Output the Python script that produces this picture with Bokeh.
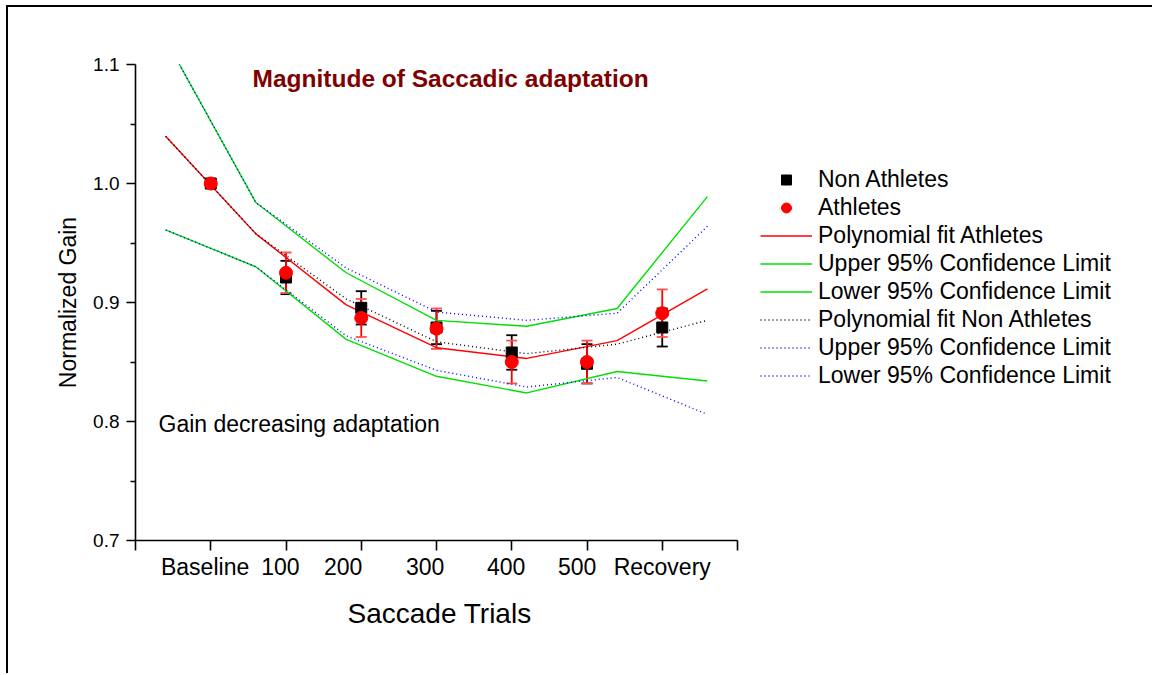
from bokeh.plotting import figure
from bokeh.models import (Range1d, FixedTicker, NumeralTickFormatter, ColumnDataSource,
                          Whisker, TeeHead, Legend, LegendItem, Label, LinearAxis, Title)
from bokeh.embed import file_html
from bokeh.resources import INLINE

FONT = "Liberation Sans"

# ---- data ----
conditions = ["Baseline", "100", "200", "300", "400", "500", "Recovery"]
cond_pos = [1, 2, 3, 4, 5, 6, 7]

non_mean = [1.000, 0.921, 0.8955, 0.879, 0.858, 0.8485, 0.879]
non_err = [0.0, 0.014, 0.014, 0.014, 0.0145, 0.0165, 0.016]
ath_mean = [1.000, 0.925, 0.887, 0.878, 0.850, 0.850, 0.891]
ath_err = [0.0, 0.017, 0.016, 0.017, 0.018, 0.018, 0.020]

fit_x = [0.4, 1.6, 2.8, 4.0, 5.2, 6.4, 7.6]
ath_fit = [1.0397, 0.9577, 0.898, 0.862, 0.853, 0.868, 0.9115]
ath_upper = [1.121, 0.984, 0.925, 0.885, 0.880, 0.895, 0.989]
ath_lower = [0.961, 0.930, 0.869, 0.838, 0.824, 0.842, 0.834]
non_fit = [1.0397, 0.9577, 0.903, 0.867, 0.857, 0.865, 0.885]
non_upper = [1.121, 0.984, 0.929, 0.892, 0.885, 0.891, 0.964]
non_lower = [0.961, 0.930, 0.872, 0.843, 0.829, 0.837, 0.806]

y_ticks = [0.7, 0.8, 0.9, 1.0, 1.1]
y_minor = [0.75, 0.85, 0.95, 1.05]
x_ticks = [0, 1, 2, 3, 4, 5, 6, 7, 8]
x_axis_span = (0, 8)

# styling: horizontal nudges of the category labels (as placed in the original)
label_shift = [-0.075, -0.075, -0.24, -0.15, -0.075, -0.13, 0.0]

# ---- figure ----
W, H = 1146, 668
LEFT, RIGHT, TOP = 127, 6, 57
FRAME_W, FRAME_H = W - LEFT - RIGHT, 476
px_per_unit = 602 / 8.0          # axis 0..8 spans 602 px in the original
x_end = FRAME_W / px_per_unit    # frame extends further right to host the legend

p = figure(width=W, height=H, output_backend="svg", toolbar_location=None,
           x_range=Range1d(0, x_end), y_range=Range1d(0.7, 1.1),
           min_border_left=LEFT, min_border_right=RIGHT,
           min_border_top=TOP, min_border_bottom=H - TOP - FRAME_H)
p.styles = {"margin-left": "6px", "margin-top": "5px",
            "border-left": "2px solid black", "border-top": "2px solid black"}
p.outline_line_color = None
p.xgrid.visible = False
p.ygrid.visible = False
p.background_fill_color = "white"
p.border_fill_color = "white"

# axes
for ax in (p.xaxis[0], p.yaxis[0]):
    ax.axis_line_width = 1.6
    ax.axis_line_color = "black"
    ax.major_tick_line_width = 1.6
    ax.minor_tick_line_width = 1.6
    ax.major_tick_in = 0
    ax.minor_tick_in = 0
    ax.major_label_text_font = FONT
    ax.axis_label_text_font = FONT
    ax.axis_label_text_font_style = "normal"
    ax.major_label_text_color = "black"
    ax.axis_label_text_color = "black"

p.yaxis.ticker = FixedTicker(ticks=y_ticks, minor_ticks=y_minor)
p.yaxis.formatter = NumeralTickFormatter(format="0.0")
p.yaxis.major_tick_out = 9
p.yaxis.minor_tick_out = 5
p.yaxis.major_label_text_font_size = "19px"
p.yaxis.major_label_standoff = 7
p.yaxis.axis_label = "Normalized Gain"
p.yaxis.axis_label_text_font_size = "23px"
p.yaxis.axis_label_standoff = 9

# tick-mark axis (no labels)
p.xaxis.ticker = FixedTicker(ticks=x_ticks, minor_ticks=[])
p.xaxis.bounds = x_axis_span
p.xaxis.major_label_overrides = {t: "" for t in x_ticks}
p.xaxis.major_label_text_font_size = "1px"
p.xaxis.major_label_standoff = 0
p.xaxis.major_tick_out = 10

# label axis
lab_pos = [c + s for c, s in zip(cond_pos, label_shift)]
lab_axis = LinearAxis(ticker=FixedTicker(ticks=lab_pos, minor_ticks=[]), bounds=x_axis_span,
                      major_label_overrides={lp: name for lp, name in zip(lab_pos, conditions)},
                      axis_line_color=None, major_tick_line_color=None, minor_tick_line_color=None,
                      major_tick_out=0, major_tick_in=0,
                      major_label_text_font=FONT, major_label_text_font_size="23px",
                      major_label_text_color="black", major_label_standoff=3)
p.add_layout(lab_axis, "below")

# x-axis title, centred under the 0..8 axis
p.add_layout(Title(text="Saccade Trials", align="left", offset=212,
                   text_font=FONT, text_font_size="28px", text_font_style="normal",
                   text_color="black", standoff=27), "below")

# ---- fit lines ----
r_afit = p.line(fit_x, ath_fit, line_color="#ff0000", line_width=1.4)
r_aup = p.line(fit_x, ath_upper, line_color="#00e000", line_width=1.4)
r_alo = p.line(fit_x, ath_lower, line_color="#00e000", line_width=1.4)
r_nfit = p.line(fit_x, non_fit, line_color="black", line_width=1.4, line_dash="1 3")
r_nup = p.line(fit_x, non_upper, line_color="#0000ff", line_width=1.4, line_dash="1 3")
r_nlo = p.line(fit_x, non_lower, line_color="#0000ff", line_width=1.4, line_dash="1 3")

# ---- error bars ----
src_n = ColumnDataSource(dict(x=cond_pos, y=non_mean,
                              lo=[m - e for m, e in zip(non_mean, non_err)],
                              hi=[m + e for m, e in zip(non_mean, non_err)]))
src_a = ColumnDataSource(dict(x=cond_pos, y=ath_mean,
                              lo=[m - e for m, e in zip(ath_mean, ath_err)],
                              hi=[m + e for m, e in zip(ath_mean, ath_err)]))
p.add_layout(Whisker(source=src_n, base="x", lower="lo", upper="hi",
                     line_color="black", line_width=1.8,
                     upper_head=TeeHead(size=11, line_color="black", line_width=1.8),
                     lower_head=TeeHead(size=11, line_color="black", line_width=1.8)))
r_nsq = p.scatter("x", "y", source=src_n, marker="square", size=11,
                  fill_color="black", line_color="black")
p.add_layout(Whisker(source=src_a, base="x", lower="lo", upper="hi",
                     line_color="#ff0000", line_width=1.8,
                     upper_head=TeeHead(size=11, line_color="#ff5050", line_width=1.8),
                     lower_head=TeeHead(size=11, line_color="#ff5050", line_width=1.8)))
r_acirc = p.scatter("x", "y", source=src_a, marker="circle", size=13,
                    fill_color="#ff0000", line_color="#ff0000")

# ---- texts ----
p.add_layout(Label(x=1.555, y=1.0882, text="Magnitude of  Saccadic adaptation",
                   text_font=FONT, text_font_size="24.5px", text_font_style="bold",
                   text_color="#800000", text_baseline="middle"))
p.add_layout(Label(x=0.306, y=0.7975, text="Gain decreasing adaptation",
                   text_font=FONT, text_font_size="23px", text_color="black",
                   text_baseline="middle"))

# ---- legend ----
legend = Legend(items=[
    LegendItem(label="Non Athletes", renderers=[r_nsq]),
    LegendItem(label="Athletes", renderers=[r_acirc]),
    LegendItem(label="Polynomial fit Athletes", renderers=[r_afit]),
    LegendItem(label="Upper 95% Confidence Limit", renderers=[r_aup]),
    LegendItem(label="Lower 95% Confidence Limit", renderers=[r_alo]),
    LegendItem(label="Polynomial fit Non Athletes", renderers=[r_nfit]),
    LegendItem(label="Upper 95% Confidence Limit", renderers=[r_nup]),
    LegendItem(label="Lower 95% Confidence Limit", renderers=[r_nlo]),
], location=(625, 151))
legend.border_line_color = None
legend.background_fill_alpha = 0
legend.padding = 0
legend.margin = 0
legend.glyph_width = 52
legend.glyph_height = 25
legend.label_height = 25
legend.spacing = 1
legend.label_standoff = 6
legend.label_text_font = FONT
legend.label_text_font_size = "23px"
legend.label_text_color = "black"
p.add_layout(legend, "center")

open("out.html", "w").write(file_html(p, INLINE))
